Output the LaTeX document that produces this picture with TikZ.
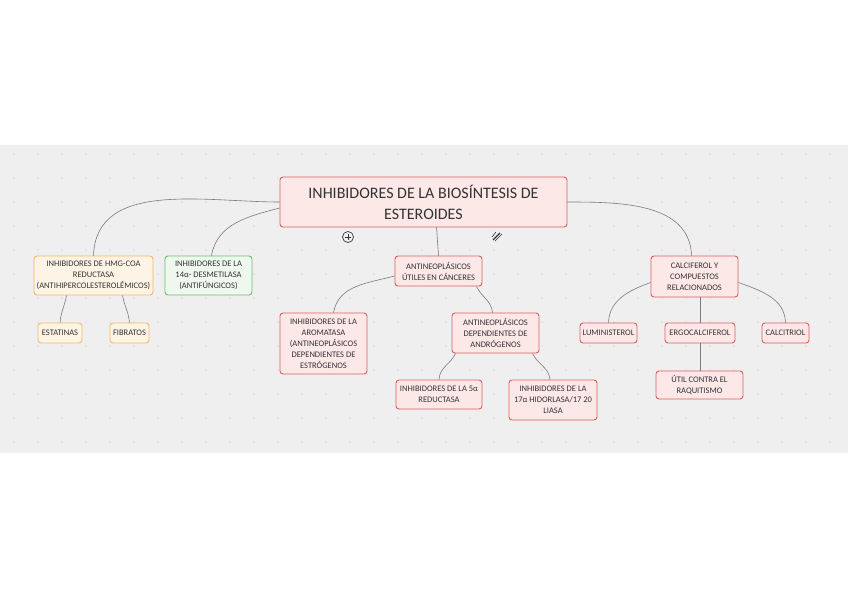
\documentclass[tikz,border=0pt]{standalone}
\usepackage{fontspec}
\setmainfont{Carlito}
\definecolor{bandc}{HTML}{EFEFEF}
\definecolor{dotc}{HTML}{C8C8C8}
\definecolor{txt}{HTML}{333333}
\definecolor{redb}{HTML}{D9605C}
\definecolor{redf}{HTML}{FDE8E8}
\definecolor{orab}{HTML}{F5B66A}
\definecolor{oraf}{HTML}{FEF4E6}
\definecolor{greb}{HTML}{6CBE6C}
\definecolor{gref}{HTML}{EEF8EE}
\definecolor{linec}{HTML}{7A7A7A}
\begin{document}
\begin{tikzpicture}[x=1pt,y=-1pt,
  box/.style={draw, rounded corners=3pt, line width=0.9pt, align=center, inner sep=0pt, text=txt, font=\fontsize{8.5}{11}\selectfont},
  redbox/.style={box, draw=redb, fill=redf},
  orabox/.style={box, draw=orab, fill=oraf},
  grebox/.style={box, draw=greb, fill=gref},
  sz/.style 2 args={minimum width=#1, minimum height=#2},
  conn/.style={draw=linec, line width=0.6pt}]
\useasboundingbox (0,0) rectangle (848,599);
\fill[white] (0,0) rectangle (848,599);
\fill[bandc] (0,145) rectangle (848,453);
\foreach \x in {14,38,...,842} {\foreach \y in {154,178,...,442} {\fill[dotc] (\x,\y) circle (0.7pt);}}

% nodes
\node[redbox, sz={287pt}{50pt}, font=\fontsize{16}{21}\selectfont] (root) at (423.5,202) {INHIBIDORES DE LA BIOSÍNTESIS DE\\ESTEROIDES};
\node[orabox, sz={119pt}{39pt}] (hmg) at (93.5,275.5) {INHIBIDORES DE HMG-COA\\REDUCTASA\\(ANTIHIPERCOLESTEROLÉMICOS)};
\node[grebox, sz={87pt}{39pt}] (desm) at (208.5,275.5) {INHIBIDORES DE LA\\14α- DESMETILASA\\(ANTIFÚNGICOS)};
\node[redbox, sz={87pt}{30pt}] (antineo) at (438.5,271) {ANTINEOPLÁSICOS\\ÚTILES EN CÁNCERES};
\node[redbox, sz={87pt}{41pt}] (calcif) at (694.5,276.5) {CALCIFEROL Y\\COMPUESTOS\\RELACIONADOS};
\node[orabox, sz={44pt}{20pt}] (estat) at (60,333) {ESTATINAS};
\node[orabox, sz={39pt}{20pt}] (fibr) at (129.5,333) {FIBRATOS};
\node[redbox, sz={87pt}{61pt}] (arom) at (323.5,343.5) {INHIBIDORES DE LA\\AROMATASA\\(ANTINEOPLÁSICOS\\DEPENDIENTES DE\\ESTRÓGENOS};
\node[redbox, sz={87pt}{40pt}] (andro) at (495.5,333) {ANTINEOPLÁSICOS\\DEPENDIENTES DE\\ANDRÓGENOS};
\node[redbox, sz={86pt}{29pt}] (five) at (439,394.5) {INHIBIDORES DE LA 5α\\REDUCTASA};
\node[redbox, sz={88pt}{40pt}] (sevent) at (553,400) {INHIBIDORES DE LA\\17α HIDORLASA/17 20\\LIASA};
\node[redbox, sz={57pt}{20pt}] (lumin) at (608.5,333) {LUMINISTEROL};
\node[redbox, sz={70pt}{20pt}] (ergo) at (700,333) {ERGOCALCIFEROL};
\node[redbox, sz={47pt}{20pt}] (calcit) at (785.5,333) {CALCITRIOL};
\node[redbox, sz={87pt}{28pt}] (util) at (699.5,385) {ÚTIL CONTRA EL\\RAQUITISMO};

% connectors
\draw[conn] (root.west) to[out=180,in=88] (hmg.north);
\draw[conn] ([yshift=-6pt]root.west) to[out=195,in=80] ([xshift=3pt]desm.north);
\draw[conn] ([xshift=13pt]root.south) -- (antineo.north);
\draw[conn] (root.east) to[out=0,in=92] ([xshift=-3pt]calcif.north);
\draw[conn] ([yshift=-5pt]antineo.west) to[out=195,in=80] ([xshift=10pt]arom.north);
\draw[conn] ([xshift=38pt]antineo.south) to[out=-65,in=95] ([xshift=-3pt]andro.north);
\draw[conn] ([xshift=-40pt]andro.south) to[out=-115,in=88] (five.north);
\draw[conn] ([xshift=37pt]andro.south) to[out=-65,in=95] ([xshift=-3pt]sevent.north);
\draw[conn] ([yshift=-6pt]calcif.west) to[out=200,in=88] (lumin.north);
\draw[conn] (calcif.south -| ergo.north) -- (ergo.north);
\draw[conn] ([yshift=-6pt]calcif.east) to[out=-20,in=92] (calcit.north);
\draw[conn] (ergo.south) -- (util.north -| ergo.south);
\draw[conn] ([xshift=-27pt]hmg.south) to[out=-100,in=85] (estat.north);
\draw[conn] ([xshift=29pt]hmg.south) to[out=-80,in=95] (fibr.north);

% icons
\node[circle, draw=txt, line width=0.7pt, inner sep=0pt, minimum size=11pt] (plus) at (348,237) {};
\draw[txt, line width=0.7pt] ([xshift=-3pt]plus.center) -- ([xshift=3pt]plus.center);
\draw[txt, line width=0.7pt] ([yshift=-3pt]plus.center) -- ([yshift=3pt]plus.center);
\coordinate (pen) at (497,236);
\draw[txt, line width=1.1pt] ([shift={(-4pt,-4pt)}]pen) -- ([shift={(3pt,3pt)}]pen);
\draw[txt, line width=0.6pt] ([shift={(-2pt,-5pt)}]pen) -- ([shift={(5pt,2pt)}]pen);
\draw[txt, line width=0.6pt] ([shift={(-5pt,-1pt)}]pen) -- ([shift={(-1pt,4pt)}]pen);
\end{tikzpicture}
\end{document}
